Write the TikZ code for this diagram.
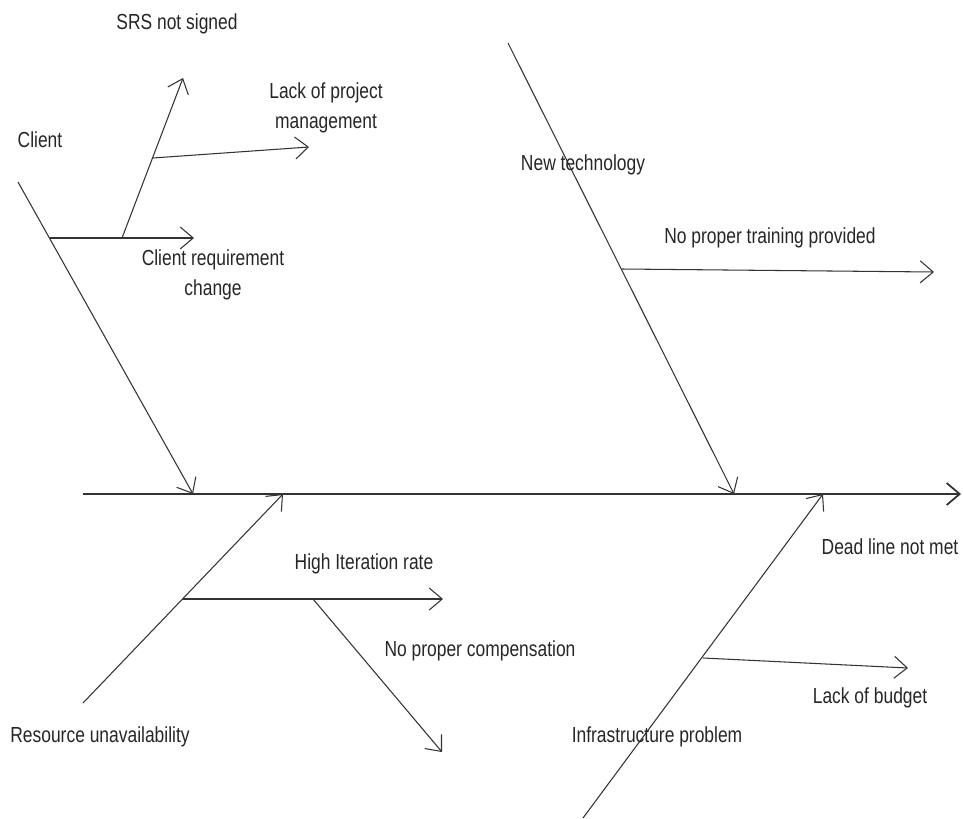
\documentclass[tikz,border=0pt]{standalone}
\usepackage{fontspec}
\setmainfont{Liberation Sans}[FakeStretch=0.80]
\usetikzlibrary{arrows.meta}

\tikzset{
  bone/.style={draw=black!80, line width=0.6pt, -{Straight Barb[length=2.6mm, width=4.4mm]}},
  spine/.style={bone, line width=1pt},
  lbl/.style={inner sep=0pt, align=center, font=\fontsize{12.4}{17}\selectfont, text=black!85}
}

\begin{document}
\begin{tikzpicture}[x=0.2mm, y=-0.2mm]
  \useasboundingbox (0,0) rectangle (963,818);
  % Main spine
  \coordinate (spineL) at (83,494);
  \coordinate (spineR) at (961,494);
  \draw[spine] (spineL) -- (spineR);
  \node[lbl] (effect) at (890,547) {Dead line not met};
  % Upper left bone: client
  \coordinate (clientS) at (18,182);
  \coordinate (clientT) at (193,494);
  \coordinate (reqS) at (50,238);
  \coordinate (reqT) at (194,238);
  \coordinate (srsS) at (122,238);
  \coordinate (srsT) at (183,78);
  \coordinate (pmS) at (153,158);
  \coordinate (pmT) at (309,147);
  \draw[bone] (clientS) -- (clientT);
  \draw[bone] (reqS) -- (reqT);
  \draw[bone] (srsS) -- (srsT);
  \draw[bone] (pmS) -- (pmT);
  \node[lbl] (client) at (40,140) {Client};
  \node[lbl] (req) at (213,275) {Client requirement\\change};
  \node[lbl] (srs) at (177,24) {SRS not signed};
  \node[lbl] (pm) at (326,108) {Lack of project\\management};
  % Upper right bone: new technology
  \coordinate (techS) at (508,43);
  \coordinate (techT) at (734,494);
  \coordinate (trainS) at (622,269);
  \coordinate (trainT) at (934,272);
  \draw[bone] (techS) -- (techT);
  \draw[bone] (trainS) -- (trainT);
  \node[lbl] (tech) at (583,165) {New technology};
  \node[lbl] (train) at (770,238) {No proper training provided};
  % Lower left bone: resources
  \coordinate (resS) at (83,703);
  \coordinate (resT) at (283,494);
  \coordinate (iterS) at (183,599);
  \coordinate (iterT) at (443,599);
  \coordinate (compS) at (313,599);
  \coordinate (compT) at (442,752);
  \draw[bone] (resS) -- (resT);
  \draw[bone] (iterS) -- (iterT);
  \draw[bone] (compS) -- (compT);
  \node[lbl] (res) at (100,737) {Resource unavailability};
  \node[lbl] (iter) at (364,564) {High Iteration rate};
  \node[lbl] (comp) at (480,651) {No proper compensation};
  % Lower right bone: infrastructure
  \coordinate (infraS) at (583,818);
  \coordinate (infraT) at (823,494);
  \coordinate (budgetS) at (703,658);
  \coordinate (budgetT) at (908,668);
  \draw[bone] (infraS) -- (infraT);
  \draw[bone] (budgetS) -- (budgetT);
  \node[lbl] (infra) at (657,737) {Infrastructure problem};
  \node[lbl] (budget) at (870,698) {Lack of budget};
\end{tikzpicture}
\end{document}
